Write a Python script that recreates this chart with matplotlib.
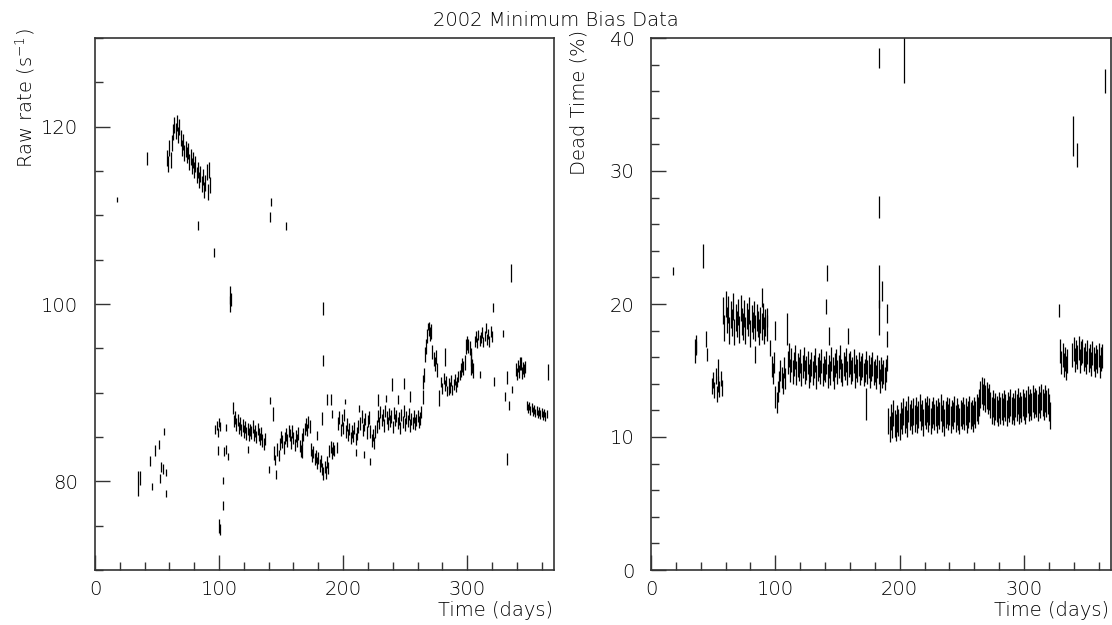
import numpy as np
import matplotlib.pyplot as plt
from matplotlib.ticker import MultipleLocator

# ---- left panel: raw rate (s^-1) ----
# isolated points: day, value, half error
rate_days = [18, 42, 35, 36, 44, 46, 48, 51.5, 52.5, 53, 54.5, 56, 57, 57.5,
             83, 96, 108.5, 109, 110, 141, 142, 154, 184, 184, 321, 335,
             100, 101, 103.5, 103, 99, 104, 106, 107.5, 105.5,
             123, 141, 143.8, 140.3, 146, 144, 145, 147, 148,
             166.7, 179.3, 182.8, 186.8, 190.3, 190.9, 193, 195, 201.6, 210.5,
             213, 217, 221.8, 228.5, 234.7, 239.2, 244.6, 249, 254, 264.8,
             268.8, 277.7, 282.2, 285, 303, 310, 329, 321.8, 330.6, 334,
             332, 332.5, 336, 342.7, 365]
rate_vals = [111.8, 116.4, 79.8, 80.4, 82.3, 79.4, 83.5, 84.2, 80.3, 81.6, 81.4, 85.6, 81.0, 78.6,
             108.9, 105.8, 100.0, 101.0, 100.5, 109.8, 111.5, 108.8, 99.5, 93.6, 99.6, 103.5,
             75.0, 74.6, 77.3, 80.1, 83.5, 83.4, 83.6, 82.8, 86.1,
             83.6, 89.1, 87.6, 81.3, 80.8, 83.2, 82.4, 83.6, 82.9,
             83.4, 85.2, 87.1, 89.2, 89.2, 87.6, 83.5, 83.8, 89.0, 83.3,
             88.2, 83.0, 82.2, 89.2, 89.3, 90.9, 89.2, 91.0, 89.6, 91.2,
             97.5, 89.4, 94.0, 90.2, 93.5, 92.1, 96.7, 91.3, 89.6, 88.6,
             91.7, 82.5, 90.4, 93.3, 92.3]
rate_errs = [0.3, 0.7, 1.4, 0.8, 0.6, 0.4, 0.6, 0.5, 0.5, 0.6, 0.6, 0.4, 0.4, 0.4,
             0.5, 0.5, 0.9, 1.0, 0.7, 0.6, 0.5, 0.4, 0.7, 0.6, 0.5, 1.0,
             0.8, 0.6, 0.5, 0.4, 0.5, 0.5, 0.5, 0.4, 0.4,
             0.4, 0.4, 0.8, 0.4, 0.5, 0.8, 0.6, 0.7, 0.6,
             0.8, 0.5, 0.7, 0.6, 0.6, 0.5, 0.6, 0.6, 0.3, 0.4,
             0.4, 0.4, 0.4, 0.7, 0.4, 0.7, 0.5, 0.6, 0.6, 0.8,
             0.4, 0.9, 1.0, 0.5, 1.5, 0.4, 0.4, 0.5, 0.5, 0.5,
             0.7, 0.7, 0.4, 0.7, 0.9]

# daily runs: (first day, values, half error)
rate_runs = [
    (58, [116.5, 115.8, 117.6, 116.2, 118.2, 119.4, 120.2, 119.5, 120.4, 119.1,
          120.0, 118.7, 117.6, 118.3, 117.0, 117.5, 116.8, 117.3, 116.0, 116.6,
          115.6, 116.2, 115.1, 115.8, 114.6, 115.1, 114.0, 114.7, 113.5, 114.3,
          112.9, 113.7, 114.9, 112.6, 115.1, 113.4], 0.9),
    (97, [85.8, 86.3, 85.5, 86.6, 86.2], 0.5),
    (111, [88.3, 86.8, 87.2, 86.4, 86.9, 86.0, 86.5, 85.8, 86.3, 85.6,
           86.1, 85.4, 85.9, 85.3, 85.8, 85.5, 86.2, 85.2, 85.7, 85.0,
           85.9, 85.3, 84.8, 85.4, 84.6, 84.2, 84.8], 0.7),
    (149, [84.2, 85.0, 84.5, 83.8, 84.9, 85.3, 84.6, 85.7, 85.2, 84.4,
           85.6, 84.9, 84.1, 85.1, 84.6, 85.4, 84.0, 83.4, 84.8, 85.3,
           85.9, 86.4, 85.8, 86.7, 86.2], 0.7),
    (174, [83.6, 82.9, 83.3, 82.5, 82.8, 82.1, 82.6, 81.8, 82.3, 81.4,
           80.9, 81.6, 81.0, 82.2, 81.5, 83.4, 83.9, 83.2, 83.7], 0.7),
    (196, [86.5, 87.2, 85.8, 86.9, 86.0, 87.5, 85.6, 86.4, 85.2, 85.9,
           84.9, 85.6, 85.1, 86.0, 84.8, 85.4, 86.2], 0.7),
    (214, [86.5, 87.3, 85.8, 86.4, 87.0, 85.5, 86.8, 87.2, 85.6, 84.6,
           85.2, 84.3, 85.6], 0.7),
    (227, [86.2, 87.4, 86.6, 87.8, 86.9, 87.5, 86.3, 87.9, 87.2, 86.5,
           87.6, 86.8, 87.3, 86.1, 87.7, 86.9, 87.4, 86.6, 87.1, 86.0,
           87.5, 86.7, 87.9, 86.4, 87.2, 86.8, 87.6, 86.3, 87.0, 86.6,
           87.3, 86.5, 86.9, 87.4, 86.7, 87.1, 87.8], 0.7),
    (264, [89.5, 92.0, 94.3, 95.2, 96.4, 97.2, 96.6, 96.9, 94.6, 93.8,
           93.2, 94.0, 92.6], 0.8),
    (279, [91.2, 90.5, 91.6, 90.8, 91.3, 90.2, 91.0, 90.6, 91.4, 90.3,
           90.9, 91.5, 90.7, 91.2, 91.8, 92.0], 0.6),
    (295, [92.6, 93.1, 92.8, 93.4, 95.2, 95.6, 95.3, 95.0, 93.8, 93.0, 92.5], 0.8),
    (306, [95.8, 96.3, 95.6, 96.5, 95.9, 96.2, 96.8, 95.7, 96.4, 97.3,
           96.0, 96.6, 95.8, 96.9, 96.3], 0.6),
    (339, [92.6, 92.1, 93.0, 92.4, 93.3, 92.2, 92.8, 92.5, 92.9], 0.7),
    (348, [88.6, 88.2, 88.5, 88.0, 88.3, 87.9, 88.1, 87.7, 88.0, 87.6,
           87.9, 87.5, 87.8, 87.4, 87.7, 87.3, 87.6], 0.5),
]

# ---- right panel: dead time (%) ----
dead_days = [17.8, 41.5, 89.5, 109, 140.6, 141.5, 143.3, 158.3, 173.3,
             183, 203.7, 365, 339.5, 342.7, 183, 183, 186, 183.2,
             189.8, 189.8, 189.8, 327.9, 83.7, 93, 95.7, 99.7,
             35.3, 35.8, 36.3, 44.3, 45.4, 53.8]
dead_vals = [22.5, 23.6, 20.5, 18.1, 19.8, 22.3, 17.6, 17.6, 12.5,
             38.5, 39.0, 36.8, 32.6, 31.2, 27.3, 21.3, 21.0, 19.0,
             19.3, 17.4, 15.6, 19.5, 16.2, 19.0, 16.7, 18.0,
             16.5, 17.0, 16.7, 17.4, 16.2, 15.1]
dead_errs = [0.3, 0.9, 0.7, 1.2, 0.55, 0.6, 0.65, 0.6, 1.2,
             0.75, 2.4, 0.9, 1.5, 0.9, 0.8, 1.6, 0.75, 1.3,
             0.7, 0.6, 0.6, 0.5, 0.65, 0.7, 0.6, 0.7,
             0.9, 0.7, 0.5, 0.6, 0.5, 0.8]

dead_runs = [
    (49, [13.8, 14.3, 13.5, 14.6, 13.2, 14.0, 13.6, 14.4, 13.7], 0.6),
    (58, [19.5, 18.2, 20.0, 18.8, 19.6, 18.0, 19.2, 18.6, 19.8, 17.9,
          19.0, 18.5, 19.4, 18.1, 19.7, 18.7, 18.3, 19.3, 18.0, 19.1,
          18.6, 19.5, 17.8, 18.9, 18.4, 19.2, 18.2, 19.0, 18.5, 17.9,
          18.8, 18.3, 19.1, 18.0, 18.6, 18.2], 1.0),
    (97, [15.3, 14.8, 15.6, 13.0, 12.6, 13.4, 14.2, 15.0, 14.5, 14.0,
          15.2, 14.4], 0.8),
    (110, [15.6, 16.2, 15.0, 15.8, 14.9, 15.5, 16.0, 14.8, 15.4, 15.1,
           15.7, 14.7, 15.3, 15.9, 14.9, 15.2, 15.6, 14.6, 15.0, 15.5,
           14.8, 15.3, 15.8, 14.5, 15.1, 15.4, 14.9, 15.7, 14.7, 15.2,
           15.0, 15.6, 14.6, 15.3, 14.8, 15.9, 15.1, 14.5, 15.4, 15.7,
           14.9, 15.3, 16.0, 15.0, 14.7, 15.5, 15.2, 15.8, 14.8, 15.4,
           15.6, 14.9, 15.1, 15.7, 14.6, 15.3, 15.0, 15.5, 14.8, 15.2,
           15.4, 14.7, 15.0, 15.6, 14.9, 15.3, 14.6, 15.1, 15.5, 14.8,
           15.0, 14.5, 15.3, 14.9, 14.2, 15.1, 14.6, 14.9, 14.4, 15.0], 0.9),
    (191, [11.2, 10.6, 11.5, 10.9, 11.8, 11.0, 10.7, 11.4, 11.1, 10.8,
           11.6, 11.2, 11.9, 11.3, 11.7, 11.0, 12.1, 11.5, 11.8, 11.2,
           11.9, 11.4, 12.0, 11.3, 11.7, 12.2, 11.5, 11.8, 11.1, 11.9,
           11.6, 12.1, 11.4, 11.9, 11.2, 11.7, 12.0, 11.5, 11.8, 11.3,
           11.9, 11.6, 12.2, 11.4, 11.8, 11.1, 11.7, 12.0, 11.5, 11.9,
           11.3, 11.8, 11.6, 12.1, 11.4, 11.9, 11.5, 11.2, 11.8, 11.6,
           12.0, 11.5, 11.9, 11.3, 11.7, 12.1, 11.6, 11.8, 11.4, 12.0,
           11.7, 12.2, 12.0, 12.6, 13.2, 13.5, 13.0, 13.4, 12.9, 13.1,
           12.7, 13.0, 12.4, 12.0, 12.5, 11.9, 12.3, 12.1, 11.8, 12.4,
           12.0, 12.3, 11.9, 12.5, 12.2, 11.8, 12.4, 12.1, 12.6, 12.0,
           12.3, 11.9, 12.5, 12.2, 12.7, 12.0, 12.4, 12.1, 12.6, 12.3,
           12.0, 12.5, 12.8, 12.2, 12.6, 12.3, 12.9, 12.4, 12.7, 12.5,
           12.2, 12.8, 12.4, 13.0, 12.6, 12.3, 12.9, 12.5, 12.7, 12.2, 11.6], 1.0),
    (329, [16.5, 15.6, 16.2, 15.4, 15.9, 15.2, 15.7], 0.9),
    (339, [16.2, 16.6, 15.8, 16.4, 16.0, 16.7, 15.7, 16.3, 16.5, 15.9,
           16.2, 15.6, 16.4, 15.8, 16.1, 15.5, 16.3, 15.9, 15.4, 16.0,
           15.7, 16.2, 15.3, 15.9, 16.1], 0.9),
]


def collect(days, vals, errs, runs):
    x = list(days)
    y = list(vals)
    e = list(errs)
    for start, run, err in runs:
        x += [start + i for i in range(len(run))]
        y += run
        e += [err] * len(run)
    return np.array(x), np.array(y), np.array(e)


plt.rcParams['font.family'] = 'DejaVu Sans'
plt.rcParams['font.weight'] = 'light'
fig = plt.figure(figsize=(11.12, 6.25), dpi=100)
ax1 = fig.add_axes([95 / 1112, 1 - 570 / 625, 459 / 1112, 532 / 625])
ax2 = fig.add_axes([651 / 1112, 1 - 570 / 625, 460 / 1112, 532 / 625])

x, y, e = collect(rate_days, rate_vals, rate_errs, rate_runs)
ax1.errorbar(x, y, yerr=e, fmt='none', ecolor='black', elinewidth=0.9, capsize=0)
ax1.set_xlim(0, 370)
ax1.set_ylim(70, 130)
ax1.yaxis.set_major_locator(MultipleLocator(20))
ax1.yaxis.set_minor_locator(MultipleLocator(5))

x, y, e = collect(dead_days, dead_vals, dead_errs, dead_runs)
ax2.errorbar(x, y, yerr=e, fmt='none', ecolor='black', elinewidth=0.9, capsize=0)
ax2.set_xlim(0, 370)
ax2.set_ylim(0, 40)
ax2.yaxis.set_major_locator(MultipleLocator(10))
ax2.yaxis.set_minor_locator(MultipleLocator(2))

for ax in (ax1, ax2):
    ax.xaxis.set_major_locator(MultipleLocator(100))
    ax.xaxis.set_minor_locator(MultipleLocator(20))
    ax.tick_params(which='both', direction='in', width=1, labelsize=14, color='#333333')
    ax.tick_params(which='major', length=11)
    ax.tick_params(which='minor', length=5.5)
    ax.tick_params(axis='y', pad=12)
    ax.tick_params(axis='x', pad=7)
    for s in ax.spines.values():
        s.set_linewidth(1.2)
        s.set_color('#333333')

fig.text(0.5, 1 - 20 / 625, '2002 Minimum Bias Data', ha='center', va='center', fontsize=14)
fig.text(25 / 1112, 1 - 28 / 625, 'Raw rate (s$^{-1}$)', rotation=90, ha='center', va='top', fontsize=14)
fig.text(579 / 1112, 1 - 30 / 625, 'Dead Time (%)', rotation=90, ha='center', va='top', fontsize=14)
fig.text(553 / 1112, 1 - 611 / 625, 'Time (days)', ha='right', va='center', fontsize=14)
fig.text(1109 / 1112, 1 - 611 / 625, 'Time (days)', ha='right', va='center', fontsize=14)

fig.savefig('out.png', dpi=100)
